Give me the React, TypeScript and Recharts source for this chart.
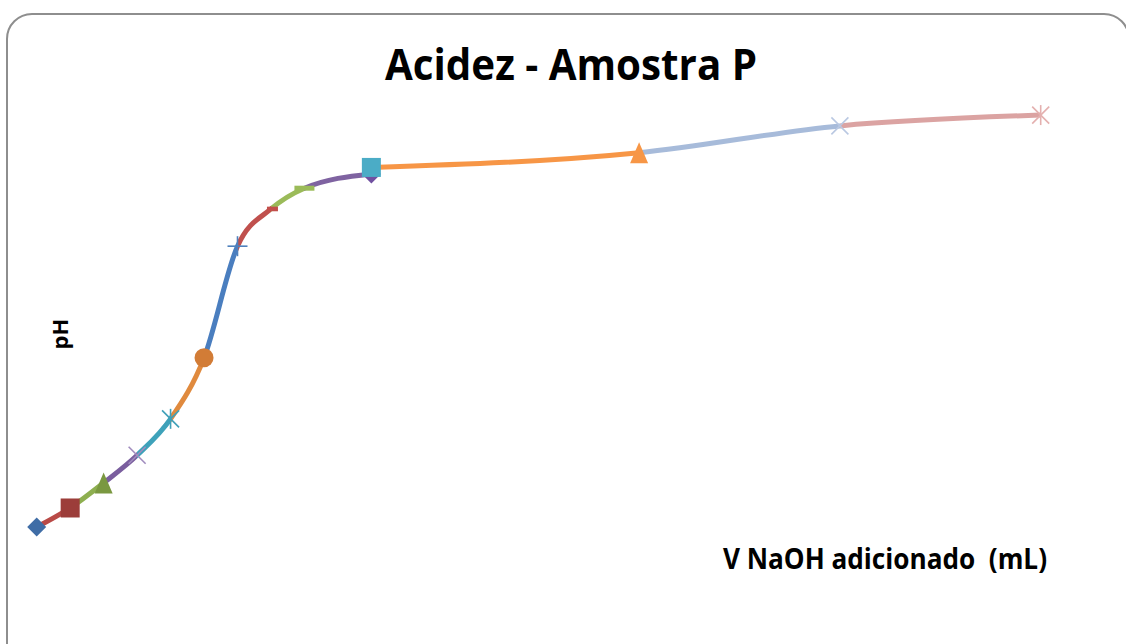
import React from "react";
import { ComposedChart, Line, XAxis, YAxis } from "recharts";

// Titration curve: volume of NaOH added (mL) vs pH.
// First run ends at 10 mL (purple end), second run starts again at 10 mL.
const volumeA = [0, 1, 2, 3, 4, 5, 6, 7, 8, 10];
const phA = [3.0, 3.44, 4.02, 4.66, 5.5, 6.91, 9.49, 10.35, 10.83, 11.16];
const volumeB = [10, 18, 24, 30];
const phB = [11.31, 11.65, 12.27, 12.52];

// Colour of each segment between consecutive points.
const segmentColorsA = [
  "#B94A47",
  "#8EAF50",
  "#7A5E9E",
  "#3EA2BA",
  "#E08A3E",
  "#4A7EBF",
  "#C0504D",
  "#9BBB59",
  "#7F63A1",
];
const segmentColorsB = ["#F79646", "#A7BBDA", "#DBA3A2"];

// Marker used at each point.
const markersA = [
  { shape: "diamond", color: "#3F6DA6" },
  { shape: "square", color: "#9C3D3A" },
  { shape: "triangle", color: "#7A9840" },
  { shape: "x", color: "#A08CBE" },
  { shape: "star", color: "#3FA0B8" },
  { shape: "circle", color: "#D27C36" },
  { shape: "plus", color: "#4F81BD" },
  { shape: "dash", color: "#C24F4B" },
  { shape: "longdash", color: "#9BBB59" },
  { shape: "diamond", color: "#7050A0" },
];
const markersB = [
  { shape: "square", color: "#4BACC6" },
  { shape: "triangle", color: "#F79646" },
  { shape: "x", color: "#B9C8E2" },
  { shape: "star", color: "#E4B0AF" },
];

const TITLE = "Acidez - Amostra P";
const X_LABEL = "V NaOH adicionado  (mL)";
const Y_LABEL = "pH";

const rowsA = volumeA.map((v, i) => ({ v, ph: phA[i] }));
const rowsB = volumeB.map((v, i) => ({ v, ph: phB[i] }));

function gradientStops(xs: number[], colors: string[]) {
  const lo = xs[0];
  const hi = xs[xs.length - 1];
  return colors.flatMap((c, i) => [
    <stop key={`s${i}a`} offset={(xs[i] - lo) / (hi - lo)} stopColor={c} />,
    <stop key={`s${i}b`} offset={(xs[i + 1] - lo) / (hi - lo)} stopColor={c} />,
  ]);
}

function Marker({ cx, cy, shape, color }: { cx: number; cy: number; shape: string; color: string }) {
  const h = 9.5;
  switch (shape) {
    case "diamond":
      return (
        <polygon
          points={`${cx},${cy - h} ${cx + h},${cy} ${cx},${cy + h} ${cx - h},${cy}`}
          fill={color}
        />
      );
    case "square":
      return <rect x={cx - h} y={cy - h} width={2 * h} height={2 * h} fill={color} />;
    case "triangle":
      return (
        <polygon
          points={`${cx},${cy - 10.5} ${cx + 9},${cy + 10.5} ${cx - 9},${cy + 10.5}`}
          fill={color}
        />
      );
    case "circle":
      return <circle cx={cx} cy={cy} r={h} fill={color} />;
    case "x":
      return (
        <g stroke={color} strokeWidth={1.6}>
          <line x1={cx - 8.5} y1={cy - 8.5} x2={cx + 8.5} y2={cy + 8.5} />
          <line x1={cx - 8.5} y1={cy + 8.5} x2={cx + 8.5} y2={cy - 8.5} />
        </g>
      );
    case "star":
      return (
        <g stroke={color} strokeWidth={1.6}>
          <line x1={cx - 8.5} y1={cy - 8.5} x2={cx + 8.5} y2={cy + 8.5} />
          <line x1={cx - 8.5} y1={cy + 8.5} x2={cx + 8.5} y2={cy - 8.5} />
          <line x1={cx} y1={cy - 10} x2={cx} y2={cy + 10} />
        </g>
      );
    case "plus":
      return (
        <g stroke={color} strokeWidth={1.6}>
          <line x1={cx - 10} y1={cy} x2={cx + 10} y2={cy} />
          <line x1={cx} y1={cy - 10} x2={cx} y2={cy + 10} />
        </g>
      );
    case "dash":
      return <rect x={cx - 4} y={cy - 2.3} width={11} height={4.6} fill={color} />;
    case "longdash":
      return <rect x={cx - 10} y={cy - 2.5} width={20} height={5} fill={color} />;
    default:
      return null;
  }
}

function dotRenderer(markers: { shape: string; color: string }[], prefix: string) {
  return (props: any) => {
    const { cx, cy, index } = props;
    const m = markers[index];
    if (!m || cx == null || cy == null) return <g key={`${prefix}${index}`} />;
    return (
      <g key={`${prefix}${index}`}>
        <Marker cx={cx} cy={cy} shape={m.shape} color={m.color} />
      </g>
    );
  };
}

const W = 1126;
const H = 644;

export default function App() {
  return (
    <div
      style={{
        position: "absolute",
        left: 0,
        top: 0,
        width: W,
        height: H,
        overflow: "hidden",
        background: "#ffffff",
      }}
    >
      <div
        style={{
          position: "absolute",
          left: 6,
          top: 13,
          width: 1124,
          height: 720,
          boxSizing: "border-box",
          border: "2px solid #8E8E8E",
          borderRadius: 26,
        }}
      />
      <svg
        width={W}
        height={H}
        style={{ position: "absolute", left: 0, top: 0 }}
      >
        <defs>
          <linearGradient id="segA" x1="0" y1="0" x2="1" y2="0">
            {gradientStops(volumeA, segmentColorsA)}
          </linearGradient>
          <linearGradient id="segB" x1="0" y1="0" x2="1" y2="0">
            {gradientStops(volumeB, segmentColorsB)}
          </linearGradient>
        </defs>
        <text
          x={571}
          y={80}
          textAnchor="middle"
          fontFamily="'Open Sans', sans-serif"
          fontWeight="bold"
          fontSize={43}
          textLength={372}
          lengthAdjust="spacingAndGlyphs"
          fill="#000"
        >
          {TITLE}
        </text>
        <text
          x={723}
          y={569}
          fontFamily="'Open Sans', sans-serif"
          fontWeight="bold"
          fontSize={28}
          textLength={324}
          lengthAdjust="spacingAndGlyphs"
          fill="#000"
          style={{ whiteSpace: "pre" }}
        >
          {X_LABEL}
        </text>
        <text
          transform="translate(68,334) rotate(-90)"
          textAnchor="middle"
          fontFamily="'Open Sans', sans-serif"
          fontWeight="bold"
          fontSize={22}
          fill="#000"
        >
          {Y_LABEL}
        </text>
      </svg>
      <div style={{ position: "absolute", left: 0, top: 0 }}>
        <ComposedChart
          width={W}
          height={H}
          margin={{ left: 36.7, right: 85.3, top: 94.3, bottom: 73.7 }}
        >
          <XAxis type="number" dataKey="v" domain={[0, 30]} hide />
          <YAxis type="number" dataKey="ph" domain={[2, 13]} hide />
          <Line
            data={rowsA}
            dataKey="ph"
            type="monotone"
            stroke="url(#segA)"
            strokeWidth={5}
            strokeLinecap="butt"
            dot={dotRenderer(markersA, "a")}
            activeDot={false}
            isAnimationActive={false}
          />
          <Line
            data={rowsB}
            dataKey="ph"
            type="monotone"
            stroke="url(#segB)"
            strokeWidth={5}
            strokeLinecap="butt"
            dot={dotRenderer(markersB, "b")}
            activeDot={false}
            isAnimationActive={false}
          />
        </ComposedChart>
      </div>
    </div>
  );
}
